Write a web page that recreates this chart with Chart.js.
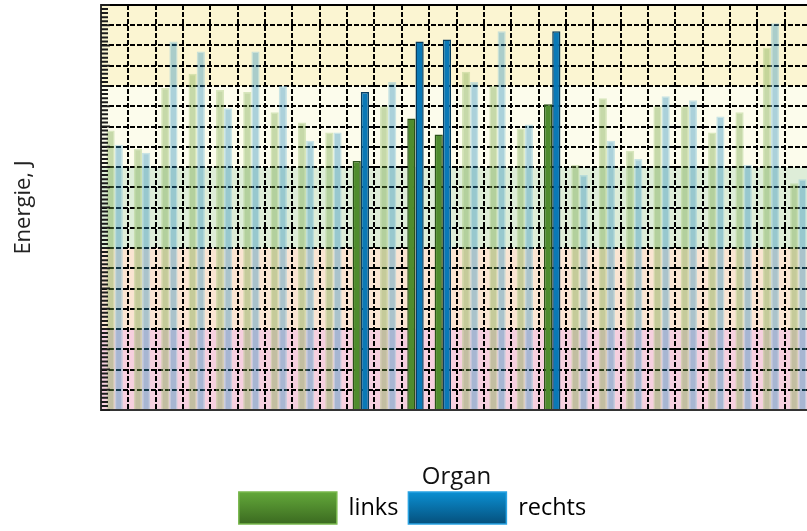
<!DOCTYPE html>
<html>
<head>
<meta charset="utf-8">
<script src="https://cdn.jsdelivr.net/npm/chart.js@4.4.1/dist/chart.umd.min.js"></script>
<style>
    html, body { margin: 0; padding: 0; overflow: hidden; background: #fff; }
    #wrap { width: 825px; height: 531px; }
</style>
</head>
<body>
<div id="wrap"><canvas id="energyChart" width="825" height="531"></canvas></div>
<script>
// Categories (no labels shown on the axis)
const categories = ['1', '2', '3', '4', '5', '6', '7', '8', '9', '10', '11', '12', '13',
    '14', '15', '16', '17', '18', '19', '20', '21', '22', '23', '24', '25', '26'];

// Energie, J (arbitrary units)
const links = [13.8, 12.9, 15.9, 16.6, 15.8, 15.7, 14.7, 14.2, 13.7, 12.3, 15.0, 14.4, 13.6,
    16.7, 16.0, 13.9, 15.1, 12.1, 15.4, 12.8, 15.0, 15.0, 13.7, 14.7, 17.9, 11.2];
const rechts = [13.1, 12.7, 18.2, 17.7, 14.9, 17.7, 16.0, 13.3, 13.7, 15.7, 16.2, 18.2, 18.3,
    16.2, 18.7, 14.1, 18.7, 11.6, 13.3, 12.4, 15.5, 15.3, 14.5, 12.1, 19.1, 11.4];

// categories drawn in full colour, the rest are faded
const highlighted = [9, 11, 12, 16];

// background bands on the value axis
const bandLimits = [0, 4, 8, 12, 16, 20];
const bandColors = ['#f6d0df', '#fae5d3', '#deedd8', '#fcfcec', '#fbf5d2'];

const isHi = i => highlighted.includes(i);

const bandsPlugin = {
    id: 'bands',
    beforeDraw(chart) {
        const { ctx, chartArea } = chart;
        const y = chart.scales.y;
        ctx.save();
        for (let i = 0; i < bandColors.length; i++) {
            const top = y.getPixelForValue(bandLimits[i + 1]);
            const bottom = y.getPixelForValue(bandLimits[i]);
            ctx.fillStyle = bandColors[i];
            ctx.fillRect(chartArea.left, top, chartArea.right - chartArea.left, bottom - top);
        }
        ctx.restore();

        // gradient fill for the legend boxes
        const legend = chart.legend;
        if (legend && legend.legendHitBoxes) {
            const stops = [['#63a83a', '#3b6a20'], ['#0b8fd2', '#05507c']];
            legend.legendItems.forEach((item, i) => {
                const hb = legend.legendHitBoxes[i];
                const g = ctx.createLinearGradient(0, hb.top, 0, hb.top + hb.height);
                g.addColorStop(0, stops[i][0]);
                g.addColorStop(1, stops[i][1]);
                item.fillStyle = g;
            });
        }
    }
};

// small inward ticks along the left axis
const minorTicks = {
    id: 'minorTicks',
    afterDraw(chart) {
        const { ctx, chartArea } = chart;
        const y = chart.scales.y;
        ctx.save();
        ctx.strokeStyle = '#1c1c1c';
        ctx.lineWidth = 2;
        ctx.beginPath();
        for (let v = 0; v <= 100; v++) {
            const py = y.getPixelForValue(v / 5);
            ctx.moveTo(chartArea.left, py);
            ctx.lineTo(chartArea.left + (v % 5 === 0 ? 9 : 7), py);
        }
        ctx.stroke();
        ctx.restore();
    }
};

const font = 'Open Sans';

new Chart(document.getElementById('energyChart'), {
    type: 'bar',
    data: {
        labels: categories,
        datasets: [
            {
                label: 'links',
                data: links,
                backgroundColor: links.map((v, i) => isHi(i) ? '#4f8c2d' : 'rgba(110,160,60,0.38)'),
                borderColor: links.map((v, i) => isHi(i) ? '#2b5218' : 'rgba(170,205,130,0.45)'),
                borderWidth: 1.5,
                categoryPercentage: 0.6,
                barPercentage: 1.0
            },
            {
                label: 'rechts',
                data: rechts,
                backgroundColor: rechts.map((v, i) => isHi(i) ? '#0a79b6' : 'rgba(40,140,190,0.38)'),
                borderColor: rechts.map((v, i) => isHi(i) ? '#0a3f60' : 'rgba(140,200,220,0.45)'),
                borderWidth: 1.5,
                categoryPercentage: 0.6,
                barPercentage: 1.0
            }
        ]
    },
    options: {
        responsive: false,
        animation: false,
        layout: { padding: { top: 5, right: 13, bottom: -3, left: 13 } },
        plugins: {
            tooltip: { enabled: false },
            legend: {
                position: 'bottom',
                labels: {
                    boxWidth: 98,
                    boxHeight: 32,
                    padding: 10,
                    color: '#111',
                    font: { family: font, size: 23.5 },
                    generateLabels: () => [
                        { text: 'links', fillStyle: '#4f8c2d', strokeStyle: '#78b84c', lineWidth: 1.5, datasetIndex: 0 },
                        { text: 'rechts', fillStyle: '#0a79b6', strokeStyle: '#28a2e2', lineWidth: 1.5, datasetIndex: 1 }
                    ]
                }
            }
        },
        scales: {
            x: {
                ticks: { display: false },
                grid: { color: '#000', lineWidth: 2, drawTicks: false, offset: true },
                border: {
                    display: true, color: '#333', width: 2,
                    dash: ctx => ctx.type === 'tick' ? [5, 2] : []
                },
                title: {
                    display: true, text: 'Organ', color: '#111',
                    font: { family: font, size: 24 },
                    padding: { top: 0, bottom: -10 }
                },
                afterFit: s => { s.height = 72; }
            },
            y: {
                min: 0,
                max: 20,
                ticks: { display: false, stepSize: 1 },
                grid: { color: '#000', lineWidth: 2, drawTicks: false },
                border: {
                    display: true, color: '#333', width: 2,
                    dash: ctx => (ctx.type === 'tick' && ctx.tick.value < 20) ? [5, 2] : []
                },
                title: {
                    display: true, text: 'Energie, J', color: '#222',
                    font: { family: font, size: 22 },
                    padding: { top: -2, bottom: 0 }
                },
                afterFit: s => { s.width = 88; }
            }
        }
    },
    plugins: [bandsPlugin, minorTicks]
});
</script>
</body>
</html>
